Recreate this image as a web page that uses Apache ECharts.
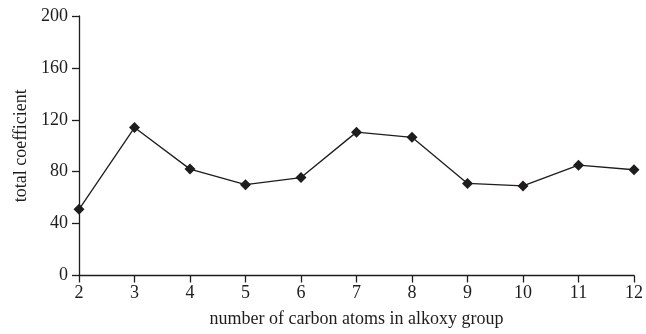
<!DOCTYPE html>
<html>
<head>
<meta charset="utf-8">
<script src="https://cdn.jsdelivr.net/npm/echarts@6/dist/echarts.min.js"></script>
<style>
  html, body { margin: 0; padding: 0; background: #fff; }
  #chart { width: 646px; height: 334px; }
</style>
</head>
<body>
<div id="chart"></div>
<script>
// carbon atoms in alkoxy group vs total coefficient
var carbonAtoms = ['2', '3', '4', '5', '6', '7', '8', '9', '10', '11', '12'];
var totalCoef = [51, 114, 82, 70, 75.5, 110.5, 106.5, 71, 69, 85, 81.5];
var yTicks = [0, 40, 80, 120, 160, 200];

var myChart = echarts.init(document.getElementById('chart'));
var ink = '#1e1c1d';
var serif = 'Liberation Serif';
var option = {
    backgroundColor: '#fff',
    animation: false,
    textStyle: { fontFamily: serif },
    grid: { left: 79, right: 10, top: 16, bottom: 58.5 },
    xAxis: {
        type: 'category',
        data: carbonAtoms,
        boundaryGap: false,
        name: 'number of carbon atoms in alkoxy group',
        nameLocation: 'middle',
        nameGap: 35,
        nameTextStyle: { color: ink, fontSize: 18, fontFamily: serif },
        axisLine: { lineStyle: { color: ink, width: 1.3 } },
        axisTick: { show: true, length: 7, lineStyle: { color: ink, width: 1.3 } },
        axisLabel: { color: ink, fontSize: 18, margin: 9, fontFamily: serif },
        splitLine: { show: false }
    },
    yAxis: {
        type: 'value',
        min: yTicks[0],
        max: yTicks[yTicks.length - 1],
        interval: yTicks[1] - yTicks[0],
        name: 'total coefficient',
        nameLocation: 'middle',
        nameGap: 49,
        nameRotate: 90,
        nameTextStyle: { color: ink, fontSize: 18, fontFamily: serif },
        axisLine: { show: true, lineStyle: { color: ink, width: 1.3 } },
        axisTick: { show: true, length: 7, lineStyle: { color: ink, width: 1.3 } },
        axisLabel: { color: ink, fontSize: 18, margin: 11, fontFamily: serif },
        splitLine: { show: false }
    },
    series: [
        {
            name: 'total coefficient',
            type: 'line',
            data: totalCoef,
            symbol: 'diamond',
            symbolSize: 11,
            lineStyle: { color: ink, width: 1.3 },
            itemStyle: { color: ink }
        }
    ]
};
myChart.setOption(option);
window.addEventListener('resize', function () {
    myChart.resize();
});
</script>
</body>
</html>
